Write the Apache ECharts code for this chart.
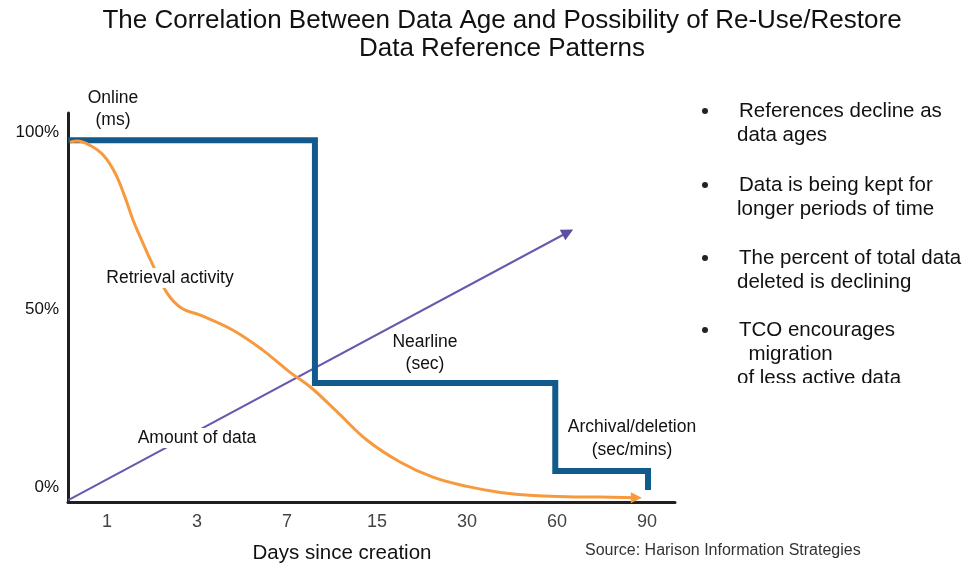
<!DOCTYPE html>
<html>
<head>
<meta charset="utf-8">
<title>Data Reference Patterns</title>
<script src="https://cdn.jsdelivr.net/npm/echarts@6/dist/echarts.min.js"></script>
<style>
  html, body { margin: 0; padding: 0; background: #ffffff; }
  #main { width: 973px; height: 565px; }
</style>
</head>
<body>
<div id="main"></div>
<script>
// x positions are day-slot indexes (0 = "1 day", 6 = "90 days"), y is percent
const dayLabels = ['1', '3', '7', '15', '30', '60', '90'];
const pctTicks = [0, 50, 100];

// storage tier step (online -> nearline -> archival)
const tierSteps = [
    [-0.43, 97.7], [2.31, 97.7], [2.31, 29.3], [4.98, 29.3],
    [4.98, 4.5], [6.01, 4.5], [6.01, -0.8]
];

// retrieval activity curve
const retrieval = [
    [-0.41, 97.2], [-0.33, 97.5], [-0.19, 96.3], [-0.04, 93.5], [0.09, 88.5],
    [0.20, 81.7], [0.29, 75.2], [0.40, 68.7], [0.50, 63.1], [0.67, 54.6],
    [0.83, 50.4], [1.03, 48.5], [1.40, 44.2], [1.73, 38.6], [2.03, 32.4],
    [2.26, 28.2], [2.56, 21.1], [2.89, 13.2], [3.26, 7.0], [3.62, 2.8],
    [4.00, 0.2], [4.37, -1.5], [4.73, -2.4], [5.11, -2.7], [5.48, -2.8],
    [5.88, -3.0]
];

// amount of data (straight rising arrow)
const amountOfData = [[-0.43, -3.7], [5.12, 71.8]];

const bullets = [
    ['References decline as', 'data ages'],
    ['Data is being kept for', 'longer periods of time'],
    ['The percent of total data', 'deleted is declining'],
    ['TCO encourages', '  migration', 'of less active data']
];

const chart = echarts.init(document.getElementById('main'), null, { renderer: 'canvas' });
const font = '"Liberation Sans", Arial, Helvetica, sans-serif';

function lastOnly(size, n) {
    return function (val, params) {
        return params.dataIndex === n - 1 ? size : 0;
    };
}

function note(text, x, y) {
    return {
        type: 'text', z: 100, x: x, y: y,
        style: {
            text: text, font: '17.5px ' + font, fill: '#111',
            align: 'center', verticalAlign: 'middle',
            backgroundColor: '#fff', padding: [1, 3]
        }
    };
}

const graphics = [
    { type: 'text', x: 502, y: 21, style: { text: 'The Correlation Between Data Age and Possibility of Re-Use/Restore', font: '26px ' + font, fill: '#111', align: 'center', verticalAlign: 'middle' } },
    { type: 'text', x: 502, y: 49, style: { text: 'Data Reference Patterns', font: '26px ' + font, fill: '#111', align: 'center', verticalAlign: 'middle' } },
    note('Online', 113, 98), note('(ms)', 113, 120),
    note('Retrieval activity', 170, 278),
    note('Amount of data', 197, 438),
    note('Nearline', 425, 342), note('(sec)', 425, 364),
    note('Archival/deletion', 632, 427), note('(sec/mins)', 632, 450),
    { type: 'text', x: 342, y: 553, style: { text: 'Days since creation', font: '20.5px ' + font, fill: '#111', align: 'center', verticalAlign: 'middle' } },
    { type: 'text', x: 585, y: 551, style: { text: 'Source: Harison Information Strategies', font: '16px ' + font, fill: '#333', verticalAlign: 'middle' } }
];

// bullet list on the right
const bulletTops = [111, 185, 258, 330];
bullets.forEach(function (lines, bi) {
    graphics.push({ type: 'circle', shape: { cx: 705, cy: bulletTops[bi], r: 3 }, style: { fill: '#222' } });
    lines.forEach(function (line, li) {
        graphics.push({
            type: 'text', x: li === 0 ? 739 : 737, y: bulletTops[bi] + li * 24.2,
            style: { text: line, font: '20.5px ' + font, fill: '#111', verticalAlign: 'middle' }
        });
    });
});
// last bullet line is cut off in the original
graphics.push({ type: 'rect', z: 50, shape: { x: 700, y: 383, width: 270, height: 14 }, style: { fill: '#fff' } });

const option = {
    backgroundColor: '#ffffff',
    animation: false,
    grid: { left: 68, right: 298, top: 113, bottom: 63 },
    xAxis: {
        type: 'value', min: -0.433, max: 6.31,
        axisLine: { onZero: false, lineStyle: { color: '#231f20', width: 3 } },
        axisTick: { show: false },
        splitLine: { show: false },
        axisLabel: {
            customValues: [0, 1, 2, 3, 4, 5, 6],
            formatter: function (v) { return dayLabels[Math.round(v)]; },
            color: '#444', fontSize: 18, fontFamily: font, margin: 11
        }
    },
    yAxis: {
        type: 'value', min: -4.2, max: 105.4,
        axisLine: { show: true, onZero: false, lineStyle: { color: '#231f20', width: 3 } },
        axisTick: { show: false },
        splitLine: { show: false },
        axisLabel: {
            customValues: pctTicks,
            formatter: function (v) { return v + '%'; },
            color: '#111', fontSize: 17, fontFamily: font, margin: 9
        }
    },
    series: [
        {
            name: 'Tier', type: 'line', data: tierSteps, symbol: 'none',
            lineStyle: { color: '#115a8c', width: 6, join: 'miter', cap: 'butt' }, z: 3
        },
        {
            name: 'Retrieval activity', type: 'line', data: retrieval, smooth: 0.4,
            symbol: 'triangle', symbolSize: lastOnly(11, retrieval.length), symbolRotate: -90,
            itemStyle: { color: '#f79a3e' },
            lineStyle: { color: '#f79a3e', width: 3 }, z: 4
        },
        {
            name: 'Amount of data', type: 'line', data: amountOfData,
            symbol: 'triangle', symbolSize: lastOnly(12, amountOfData.length), symbolRotate: -62,
            itemStyle: { color: '#5e4ea3' },
            lineStyle: { color: '#6a58ad', width: 2 }, z: 2
        }
    ],
    graphic: graphics
};

chart.setOption(option);
</script>
</body>
</html>
